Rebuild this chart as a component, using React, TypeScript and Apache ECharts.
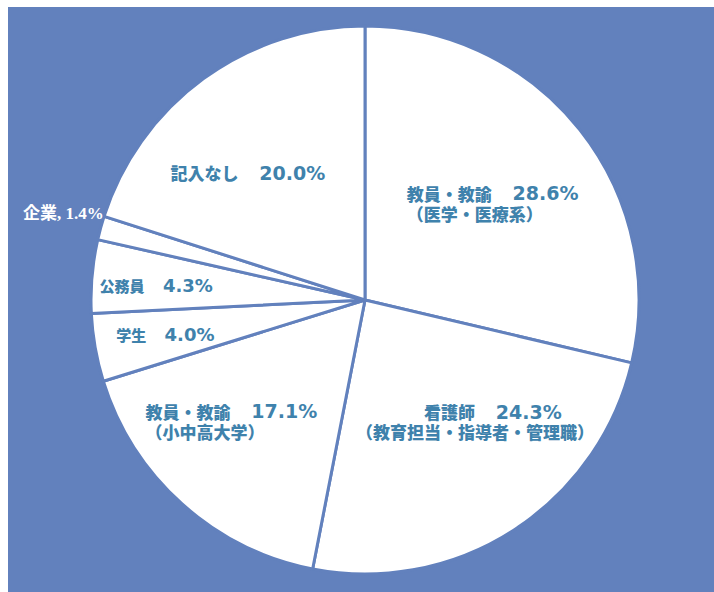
import React, { useEffect, useRef } from "react";
import * as echarts from "echarts";

// ---- data ----
const categories = [
  "教員・教諭（医学・医療系）",
  "看護師（教育担当・指導者・管理職）",
  "教員・教諭（小中高大学）",
  "学生",
  "公務員",
  "企業",
  "記入なし",
];
const mainLabels = ["教員・教諭", "　　　　看護師", "教員・教諭", "学生", "公務員", "企業", "記入なし"];
const subLabels = ["（医学・医療系）", "（教育担当・指導者・管理職）", "（小中高大学）", "", "", "", ""];
const values = [28.6, 24.3, 17.1, 4.0, 4.3, 1.4, 20.0];

// ---- layout (label offsets from the default inside anchor, px) ----
const labelOffsets: [number, number][] = [
  [-68, -10],
  [-85, 4],
  [-126, 17],
  [-111, 10],
  [-126, -2],
  [-207, -50],
  [-112, -14],
];

const BG = "#6281bd";
const TEXT = "#3f82ac";
const CJK = "'Noto Sans CJK JP', sans-serif";
const NUM = "'DejaVu Sans', 'Noto Sans CJK JP', sans-serif";

export default function App() {
  const ref = useRef<HTMLDivElement>(null);
  useEffect(() => {
    if (!ref.current) return;
    const chart = echarts.init(ref.current, undefined, { renderer: "svg" });
    const data = categories.map((name, i) => {
      const pct = `${values[i].toFixed(1)}%`;
      let label: any;
      if (i === 5) {
        label = {
          color: "#ffffff",
          fontSize: 17,
          fontWeight: "bold",
          fontFamily: "'Liberation Serif', 'Noto Sans CJK JP', serif",
          formatter: () => `${mainLabels[i]}, ${pct}`,
        };
      } else if (i === 3 || i === 4) {
        label = {
          formatter: () => `{s|${mainLabels[i]}}{h|　 }{q|${pct}}`,
        };
      } else {
        label = {
          formatter: () =>
            `{n|${mainLabels[i]}}{g|　 }{p|${pct}}` + (subLabels[i] ? `\n{n|${subLabels[i]}}` : ""),
        };
      }
      return { name, value: values[i], label };
    });
    chart.setOption({
      animation: false,
      backgroundColor: BG,
      series: [
        {
          type: "pie",
          center: [357, 293],
          radius: 274,
          startAngle: 90,
          clockwise: true,
          avoidLabelOverlap: false,
          data,
          itemStyle: { color: "#ffffff", borderColor: BG, borderWidth: 3 },
          emphasis: { disabled: true },
          labelLine: { show: false },
          label: {
            show: true,
            position: "inside",
            color: TEXT,
            fontSize: 17,
            fontWeight: "bold",
            fontFamily: CJK,
            lineHeight: 20,
            align: "left",
            rich: {
              n: { color: TEXT, fontSize: 17, fontWeight: 900, fontFamily: CJK, lineHeight: 20 },
              g: { color: TEXT, fontSize: 17, fontFamily: CJK, lineHeight: 20 },
              p: { color: TEXT, fontSize: 19, fontWeight: "bold", fontFamily: NUM, lineHeight: 20 },
              s: { color: TEXT, fontSize: 15, fontWeight: 900, fontFamily: CJK, lineHeight: 18 },
              h: { color: TEXT, fontSize: 15, fontFamily: CJK, lineHeight: 18 },
              q: { color: TEXT, fontSize: 18, fontWeight: "bold", fontFamily: NUM, lineHeight: 18 },
            },
          },
          labelLayout: (params: any) => {
            const r = params.labelRect;
            const [ox, oy] = labelOffsets[params.dataIndex];
            return {
              x: r.x + r.width / 2 + ox,
              y: r.y + r.height / 2 + oy,
              align: "left",
              verticalAlign: "middle",
            };
          },
        },
      ],
    });
    return () => chart.dispose();
  }, []);
  return (
    <div
      ref={ref}
      style={{ position: "fixed", left: 8, top: 7, width: 706, height: 585 }}
    />
  );
}
